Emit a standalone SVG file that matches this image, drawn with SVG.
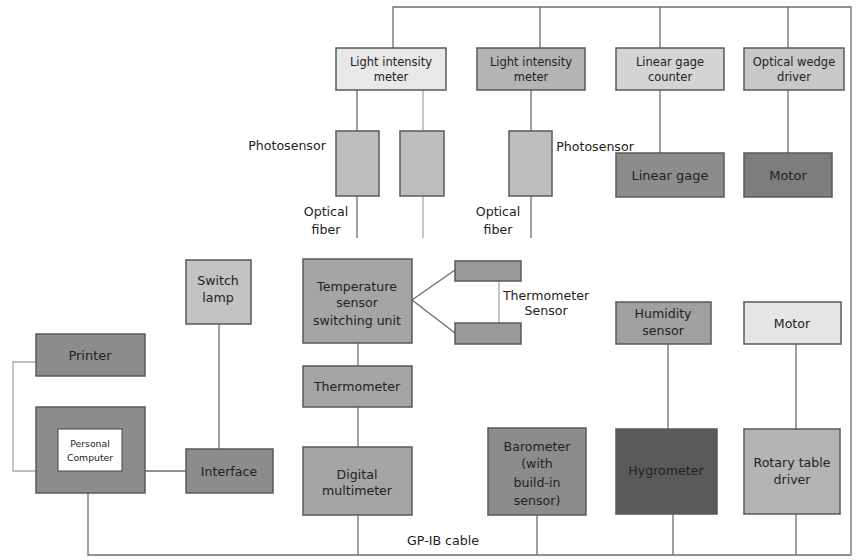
<svg xmlns="http://www.w3.org/2000/svg" width="856" height="560" viewBox="0 0 856 560">
<style>
.b{stroke:#5a5a5a;stroke-width:1.5}
.c{fill:none;stroke:#6e6e6e;stroke-width:1.3}
.l{fill:none;stroke:#a8a8a8;stroke-width:1.3}
text{font-family:"DejaVu Sans",Verdana,sans-serif;font-size:12.6px;fill:#222;text-anchor:middle}
.s{font-size:11.5px}
.p{font-size:9.3px}
.m{font-size:13px}
</style>
<rect width="856" height="560" fill="#fff"/>
<g id="connectors">
<polyline class="c" points="393,48 393,7 851,7 851,555 88,555 88,493"/>
<line class="c" x1="540" y1="7" x2="540" y2="48"/>
<line class="c" x1="660" y1="7" x2="660" y2="48"/>
<line class="c" x1="788" y1="7" x2="788" y2="48"/>
<line class="c" x1="357" y1="90" x2="357" y2="131"/>
<line class="l" x1="423" y1="90" x2="423" y2="131"/>
<line class="c" x1="531" y1="90" x2="531" y2="131"/>
<line class="c" x1="357" y1="196" x2="357" y2="238"/>
<line class="l" x1="423" y1="196" x2="423" y2="238"/>
<line class="c" x1="531" y1="196" x2="531" y2="238"/>
<line class="c" x1="660" y1="90" x2="660" y2="153"/>
<line class="c" x1="788" y1="90" x2="788" y2="153"/>
<line class="c" x1="219" y1="324" x2="219" y2="449"/>
<polyline class="c" points="455,270 412,300 455,333"/>
<line class="l" x1="499" y1="281" x2="499" y2="323"/>
<line class="c" x1="358" y1="343" x2="358" y2="366"/>
<line class="c" x1="358" y1="407" x2="358" y2="447"/>
<line class="c" x1="358" y1="515" x2="358" y2="555"/>
<line class="c" x1="537" y1="515" x2="537" y2="555"/>
<polyline class="l" points="36,362 13,362 13,471 36,471"/>
<line class="c" x1="145" y1="471" x2="186" y2="471"/>
<line class="c" x1="668" y1="344" x2="668" y2="429"/>
<line class="c" x1="673" y1="514" x2="673" y2="555"/>
<line class="c" x1="796" y1="344" x2="796" y2="429"/>
<line class="c" x1="796" y1="514" x2="796" y2="555"/>
</g>
<g id="lim1"><rect class="b" x="336" y="48" width="110" height="42" fill="#e8e8e8"/><text class="s" x="391" y="66">Light intensity</text><text class="s" x="391" y="81">meter</text></g>
<g id="lim2"><rect class="b" x="477" y="48" width="108" height="42" fill="#b4b4b4"/><text class="s" x="531" y="66">Light intensity</text><text class="s" x="531" y="81">meter</text></g>
<g id="lgc"><rect class="b" x="616" y="48" width="108" height="42" fill="#d4d4d4"/><text class="s" x="670" y="66">Linear gage</text><text class="s" x="670" y="81">counter</text></g>
<g id="owd"><rect class="b" x="744" y="48" width="100" height="42" fill="#c8c8c8"/><text class="s" x="794" y="66">Optical wedge</text><text class="s" x="794" y="81">driver</text></g>
<g id="ps1"><rect class="b" x="336" y="131" width="43" height="65" fill="#bdbdbd"/></g>
<g id="ps2"><rect class="b" x="400" y="131" width="44" height="65" fill="#bdbdbd"/></g>
<g id="ps3"><rect class="b" x="509" y="131" width="43" height="65" fill="#bdbdbd"/></g>
<g id="labels1"><text x="287" y="150">Photosensor</text><text x="595" y="151">Photosensor</text>
<text x="326" y="216">Optical</text><text x="326" y="234">fiber</text>
<text x="498" y="216">Optical</text><text x="498" y="234">fiber</text></g>
<g id="lgage"><rect class="b" x="616" y="153" width="108" height="44" fill="#8c8c8c"/><text class="m" x="670" y="180">Linear gage</text></g>
<g id="motor1"><rect class="b" x="744" y="153" width="88" height="44" fill="#7d7d7d"/><text class="m" x="788" y="180">Motor</text></g>
<g id="swlamp"><rect class="b" x="186" y="260" width="65" height="64" fill="#c3c3c3"/><text x="218" y="285">Switch</text><text x="218" y="302">lamp</text></g>
<g id="tssu"><rect class="b" x="303" y="259" width="109" height="84" fill="#a5a5a5"/><text x="357" y="291">Temperature</text><text x="357" y="307">sensor</text><text x="357" y="325">switching unit</text></g>
<g id="ts1"><rect class="b" x="455" y="261" width="66" height="20" fill="#999"/></g>
<g id="ts2"><rect class="b" x="455" y="323" width="66" height="21" fill="#999"/></g>
<g id="tslabel"><text x="546" y="300">Thermometer</text><text x="546" y="315">Sensor</text></g>
<g id="thermo"><rect class="b" x="303" y="366" width="109" height="41" fill="#a5a5a5"/><text x="357" y="391">Thermometer</text></g>
<g id="dmm"><rect class="b" x="303" y="447" width="109" height="68" fill="#a5a5a5"/><text x="357" y="479">Digital</text><text x="357" y="495">multimeter</text></g>
<g id="baro"><rect class="b" x="488" y="428" width="98" height="87" fill="#8c8c8c"/><text x="537" y="451">Barometer</text><text x="537" y="468">(with</text><text x="537" y="487">build-in</text><text x="537" y="505">sensor)</text></g>
<g id="printer"><rect class="b" x="36" y="334" width="109" height="42" fill="#8c8c8c"/><text class="m" x="90" y="360">Printer</text></g>
<g id="pc"><rect class="b" x="36" y="407" width="109" height="86" fill="#8c8c8c"/><rect x="58" y="429" width="64" height="42" fill="#fff" stroke="#444" stroke-width="1"/><text class="p" x="90" y="447">Personal</text><text class="p" x="90" y="461">Computer</text></g>
<g id="iface"><rect class="b" x="186" y="449" width="87" height="44" fill="#8c8c8c"/><text x="229" y="476">Interface</text></g>
<g id="humid"><rect class="b" x="616" y="302" width="95" height="42" fill="#a0a0a0"/><text x="663" y="318">Humidity</text><text x="663" y="335">sensor</text></g>
<g id="motor2"><rect class="b" x="744" y="302" width="97" height="42" fill="#e6e6e6"/><text x="792" y="328">Motor</text></g>
<g id="hygro"><rect class="b" x="616" y="429" width="101" height="85" fill="#5a5a5a"/><text x="666" y="475">Hygrometer</text></g>
<g id="rtd"><rect class="b" x="744" y="429" width="96" height="85" fill="#b4b4b4"/><text x="792" y="467">Rotary table</text><text x="792" y="484">driver</text></g>
<g id="gpib"><text x="443" y="545">GP-IB cable</text></g>
</svg>
